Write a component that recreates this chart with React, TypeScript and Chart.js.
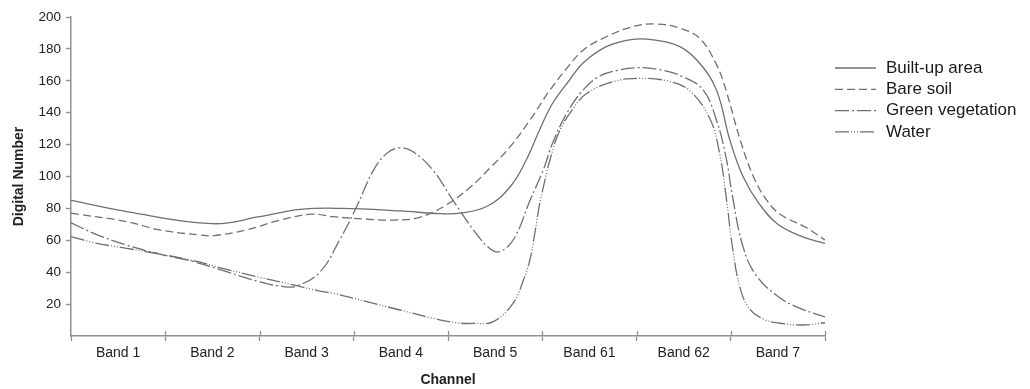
import React, { useEffect, useRef } from 'react';
import { Chart, registerables } from 'chart.js';

Chart.register(...registerables);

const bands = ['Band 1', 'Band 2', 'Band 3', 'Band 4', 'Band 5', 'Band 61', 'Band 62', 'Band 7'];

// channel position (0 = left edge of Band 1, 8 = right edge of Band 7)
const builtUpX = [0, 0.59, 1.5, 2.0, 2.43, 2.88, 3.49, 3.92, 4.13, 4.42, 4.66, 4.83, 4.97, 5.11, 5.29, 5.43, 5.68, 5.96, 6.18, 6.46, 6.67, 6.85, 6.99, 7.13, 7.3, 7.5, 7.75, 8.0];
const builtUpY = [85, 78, 70.4, 74.8, 79.4, 80, 78.4, 76.7, 77, 81.5, 93.6, 110.3, 129, 145.9, 160.5, 171, 181.4, 186, 185.6, 181.4, 171, 154, 123, 100, 83, 70, 62.5, 58];

const bareSoilX = [0, 0.59, 0.94, 1.37, 1.51, 1.86, 2.22, 2.55, 2.78, 3.14, 3.42, 3.7, 3.98, 4.23, 4.44, 4.66, 4.87, 5.08, 5.29, 5.45, 5.68, 5.96, 6.21, 6.46, 6.67, 6.85, 6.95, 7.1, 7.24, 7.38, 7.52, 7.8, 8.0];
const bareSoilY = [77, 71.7, 66.5, 63.3, 62.9, 66.5, 72.7, 76.4, 74.8, 73.2, 72.7, 74.4, 82.1, 93, 105, 118.7, 135.4, 154, 170, 180, 187.6, 194, 195.6, 193, 186.6, 170, 154, 123, 100, 85.3, 76.5, 68, 60.2];

const greenVegX = [0, 0.24, 0.59, 0.94, 1.3, 1.65, 2.0, 2.22, 2.39, 2.64, 2.85, 3.03, 3.21, 3.35, 3.49, 3.63, 3.84, 4.05, 4.27, 4.44, 4.55, 4.7, 4.87, 5.01, 5.11, 5.26, 5.43, 5.61, 5.8, 6.0, 6.24, 6.49, 6.71, 6.85, 6.95, 7.02, 7.13, 7.27, 7.52, 7.75, 8.0];
const greenVegY = [71, 64.4, 57, 51.4, 46.6, 40.3, 34, 31.3, 31.3, 40, 60.2, 81, 104, 114.5, 118, 115.5, 104, 85.3, 66.5, 55, 52.9, 61, 85, 104, 121, 139.6, 154, 163, 166.5, 168.2, 167, 162.6, 154, 135, 112, 87, 56, 38, 24, 17, 12];

const waterX = [0, 0.24, 0.59, 0.94, 1.3, 1.65, 2.0, 2.36, 2.64, 2.78, 3.14, 3.49, 3.84, 4.09, 4.27, 4.48, 4.69, 4.8, 4.87, 4.92, 4.97, 5.03, 5.08, 5.18, 5.32, 5.47, 5.75, 6.03, 6.32, 6.56, 6.78, 6.88, 6.95, 7.02, 7.1, 7.2, 7.35, 7.52, 7.77, 8.0];
const waterY = [62.3, 58.5, 55, 51.4, 47.2, 41.8, 36.8, 32, 28.2, 26.8, 21.5, 16.3, 11.1, 8.3, 7.9, 9, 20.5, 35, 48, 64, 82, 98, 110, 128, 142, 152, 159.4, 161.5, 160, 154, 136, 115, 88, 55, 30, 17, 10.5, 8, 6.9, 8.3];

const seriesNames = ['Built-up area', 'Bare soil', 'Green vegetation', 'Water'];

const LINE = '#6f6f6f';
const AXIS = '#8f8f8f';
const TEXT = '#222222';

const zip = (xs: number[], ys: number[]) => xs.map((x, i) => ({ x, y: ys[i] }));

const legendPlugin = {
  id: 'customLegend',
  afterDraw(chart: any) {
    const ctx = chart.ctx;
    const x0 = chart.chartArea.right + 10;
    chart.data.datasets.forEach((ds: any, i: number) => {
      const y = 68 + i * 21.3;
      ctx.save();
      ctx.strokeStyle = ds.borderColor;
      ctx.lineWidth = 1.3;
      ctx.setLineDash(ds.borderDash || []);
      ctx.beginPath();
      ctx.moveTo(x0, y);
      ctx.lineTo(x0 + 41, y);
      ctx.stroke();
      ctx.setLineDash([]);
      ctx.fillStyle = '#1a1a1a';
      ctx.font = '17px "Liberation Sans", Arial, sans-serif';
      ctx.textBaseline = 'middle';
      ctx.textAlign = 'left';
      ctx.fillText(ds.label, x0 + 51, y);
      ctx.restore();
    });
  },
};

const innerTicksPlugin = {
  id: 'innerTicks',
  afterDraw(chart: any) {
    const ctx = chart.ctx;
    const xs = chart.scales.xd;
    const bottom = chart.chartArea.bottom;
    ctx.save();
    ctx.strokeStyle = AXIS;
    ctx.lineWidth = 1.3;
    for (let i = 1; i <= bands.length; i++) {
      const px = Math.round(xs.getPixelForValue(i)) + 0.5;
      ctx.beginPath();
      ctx.moveTo(px, bottom - 5);
      ctx.lineTo(px, bottom);
      ctx.stroke();
    }
    ctx.restore();
  },
};

export default function App() {
  const ref = useRef<HTMLCanvasElement | null>(null);

  useEffect(() => {
    if (!ref.current) return;
    const common = {
      borderColor: LINE,
      borderWidth: 1.3,
      pointRadius: 0,
      fill: false,
      tension: 0.4,
      xAxisID: 'xd',
      yAxisID: 'y',
    };
    const chart = new Chart(ref.current, {
      type: 'line',
      data: {
        labels: bands,
        datasets: [
          { ...common, label: seriesNames[0], data: zip(builtUpX, builtUpY) },
          { ...common, label: seriesNames[1], data: zip(bareSoilX, bareSoilY), borderDash: [8, 4] },
          { ...common, label: seriesNames[2], data: zip(greenVegX, greenVegY), borderDash: [14, 3, 2, 3] },
          { ...common, label: seriesNames[3], data: zip(waterX, waterY), borderDash: [14, 2, 1, 2, 1, 2, 1, 2] },
        ],
      },
      options: {
        responsive: false,
        animation: false,
        events: [],
        layout: { padding: { top: 17, right: 205, left: 0, bottom: 0 } },
        plugins: {
          legend: { display: false },
          tooltip: { enabled: false },
          title: { display: false },
        },
        scales: {
          xd: {
            type: 'linear',
            display: false,
            min: 0,
            max: 8,
          },
          x: {
            type: 'category',
            position: 'bottom',
            offset: true,
            grid: {
              offset: true,
              drawOnChartArea: false,
              tickLength: 5,
              tickColor: AXIS,
              tickWidth: 1.3,
            },
            border: { display: true, color: AXIS, width: 1.5 },
            ticks: {
              color: TEXT,
              font: { family: '"Liberation Sans", Arial, sans-serif', size: 14 },
              padding: 4,
              maxRotation: 0,
            },
            title: {
              display: true,
              text: 'Channel',
              color: TEXT,
              font: { family: '"Liberation Sans", Arial, sans-serif', size: 14, weight: 'bold' },
              padding: { top: 4, bottom: 0 },
            },
            afterFit(scale: any) {
              scale.height = 53;
            },
          },
          y: {
            min: 0,
            max: 200,
            grid: {
              drawOnChartArea: false,
              tickLength: 5,
              tickWidth: 1.3,
              tickColor: (ctx: any) => (ctx.tick && ctx.tick.value === 0 ? 'rgba(0,0,0,0)' : AXIS),
            },
            border: { display: true, color: AXIS, width: 1.5 },
            ticks: {
              stepSize: 20,
              color: TEXT,
              padding: 5,
              font: { family: '"Liberation Sans", Arial, sans-serif', size: 13.5 },
              callback: (v: any) => (Number(v) === 0 ? '' : String(v)),
            },
            title: {
              display: true,
              text: 'Digital Number',
              color: TEXT,
              font: { family: '"Liberation Sans", Arial, sans-serif', size: 14, weight: 'bold' },
              padding: { top: 11, bottom: 0 },
            },
            afterFit(scale: any) {
              scale.width = 71;
            },
          },
        },
      },
      plugins: [legendPlugin, innerTicksPlugin],
    });
    return () => chart.destroy();
  }, []);

  return (
    <div style={{ position: 'fixed', left: 0, top: 0, width: 1030, height: 389, background: '#fff' }}>
      <canvas ref={ref} width={1030} height={389} style={{ width: 1030, height: 389 }} />
    </div>
  );
}
